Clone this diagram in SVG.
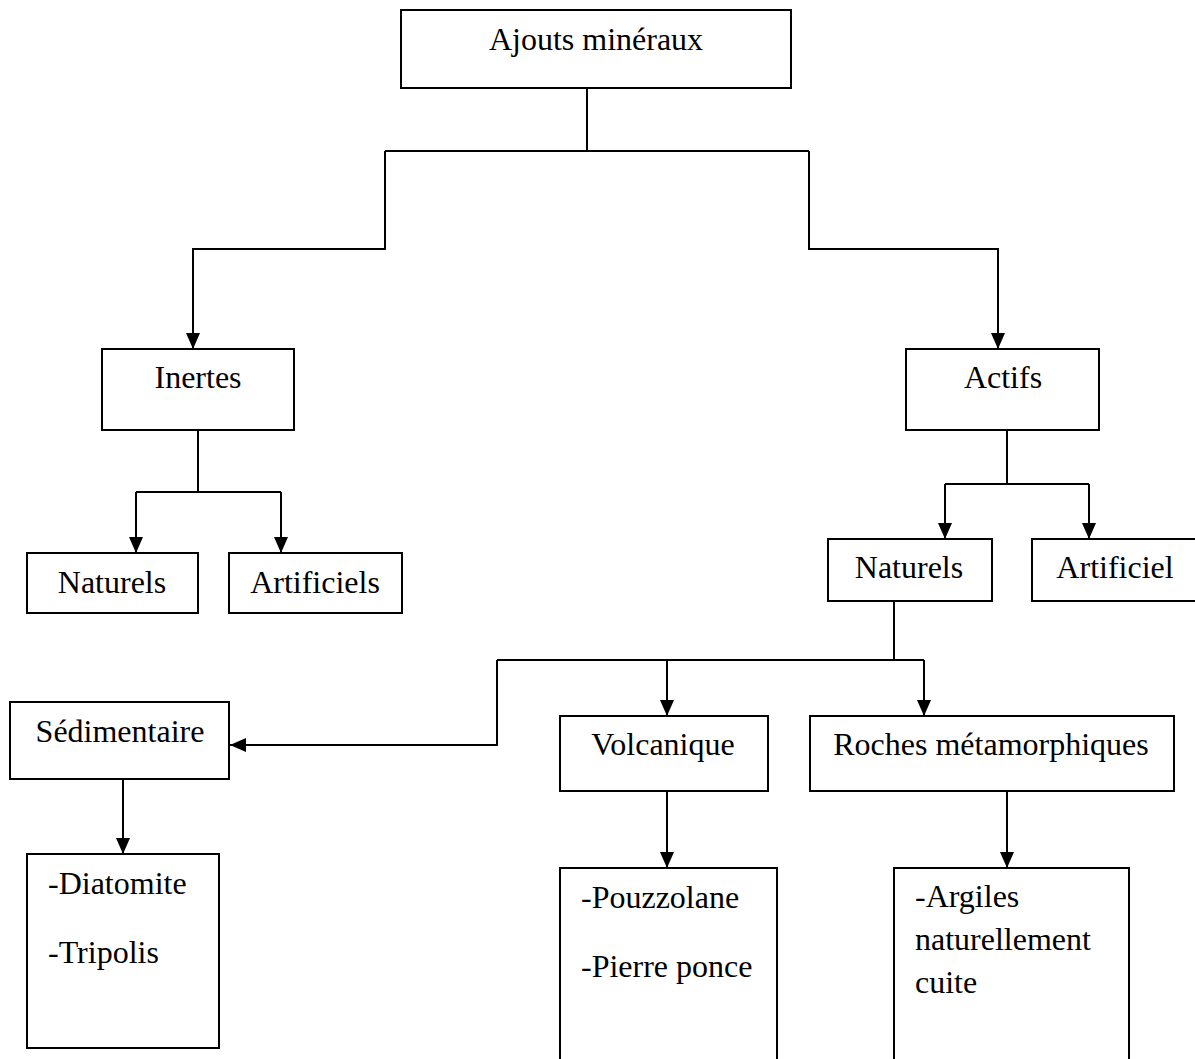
<svg xmlns="http://www.w3.org/2000/svg" width="1195" height="1059" viewBox="0 0 1195 1059">
<defs>
<style>
.box{fill:#fff;stroke:#000;stroke-width:2}
.lbl{font-family:"Liberation Serif","Times New Roman",serif;font-size:32px;fill:#000}
.c{text-anchor:middle}
.con{fill:none;stroke:#000;stroke-width:2}
</style>
<marker id="ah" markerUnits="userSpaceOnUse" markerWidth="16" markerHeight="14" refX="16" refY="7" orient="auto">
<path d="M0,0 L16,7 L0,14 z" fill="#000"/>
</marker>
</defs>
<rect width="1195" height="1059" fill="#fff"/>
<g id="connectors">
<path class="con" d="M587,88 V151 M385,151 H809"/>
<path class="con" d="M385,151 V249 H193 V349" marker-end="url(#ah)"/>
<path class="con" d="M809,151 V249 H998 V349" marker-end="url(#ah)"/>
<path class="con" d="M198,430 V492 M136,492 H281"/>
<path class="con" d="M136,492 V553" marker-end="url(#ah)"/>
<path class="con" d="M281,492 V553" marker-end="url(#ah)"/>
<path class="con" d="M1007,430 V484 M945,484 H1089"/>
<path class="con" d="M945,484 V539" marker-end="url(#ah)"/>
<path class="con" d="M1089,484 V539" marker-end="url(#ah)"/>
<path class="con" d="M894,601 V660 M497,660 H924"/>
<path class="con" d="M497,660 V745 H230" marker-end="url(#ah)"/>
<path class="con" d="M667,660 V716" marker-end="url(#ah)"/>
<path class="con" d="M924,660 V716" marker-end="url(#ah)"/>
<path class="con" d="M123,779 V854" marker-end="url(#ah)"/>
<path class="con" d="M667,791 V868" marker-end="url(#ah)"/>
<path class="con" d="M1007,791 V868" marker-end="url(#ah)"/>
</g>
<g id="n-ajouts"><rect class="box" x="401" y="10" width="390" height="78"/><text class="lbl c" x="596" y="50">Ajouts minéraux</text></g>
<g id="n-inertes"><rect class="box" x="102" y="349" width="192" height="81"/><text class="lbl c" x="198" y="388">Inertes</text></g>
<g id="n-actifs"><rect class="box" x="906" y="349" width="193" height="81"/><text class="lbl c" x="1003" y="388">Actifs</text></g>
<g id="n-inertes-naturels"><rect class="box" x="27" y="553" width="171" height="60"/><text class="lbl c" x="112" y="593">Naturels</text></g>
<g id="n-inertes-artificiels"><rect class="box" x="229" y="553" width="173" height="60"/><text class="lbl c" x="315" y="593">Artificiels</text></g>
<g id="n-actifs-naturels"><rect class="box" x="828" y="539" width="164" height="62"/><text class="lbl c" x="909" y="578">Naturels</text></g>
<g id="n-actifs-artificiel"><rect class="box" x="1032" y="539" width="170" height="62"/><text class="lbl c" x="1115" y="578">Artificiel</text></g>
<g id="n-sedimentaire"><rect class="box" x="10" y="702" width="219" height="77"/><text class="lbl c" x="120" y="742">Sédimentaire</text></g>
<g id="n-volcanique"><rect class="box" x="560" y="716" width="208" height="75"/><text class="lbl c" x="663" y="755">Volcanique</text></g>
<g id="n-roches"><rect class="box" x="810" y="716" width="364" height="75"/><text class="lbl c" x="991" y="755">Roches métamorphiques</text></g>
<g id="n-sed-list"><rect class="box" x="27" y="854" width="192" height="194"/><text class="lbl" x="48" y="894">-Diatomite</text><text class="lbl" x="48" y="963">-Tripolis</text></g>
<g id="n-volc-list"><rect class="box" x="560" y="868" width="217" height="200"/><text class="lbl" x="581" y="908">-Pouzzolane</text><text class="lbl" x="581" y="977">-Pierre ponce</text></g>
<g id="n-roches-list"><rect class="box" x="894" y="868" width="235" height="200"/><text class="lbl" x="915" y="907">-Argiles</text><text class="lbl" x="915" y="950">naturellement</text><text class="lbl" x="915" y="993">cuite</text></g>
</svg>
